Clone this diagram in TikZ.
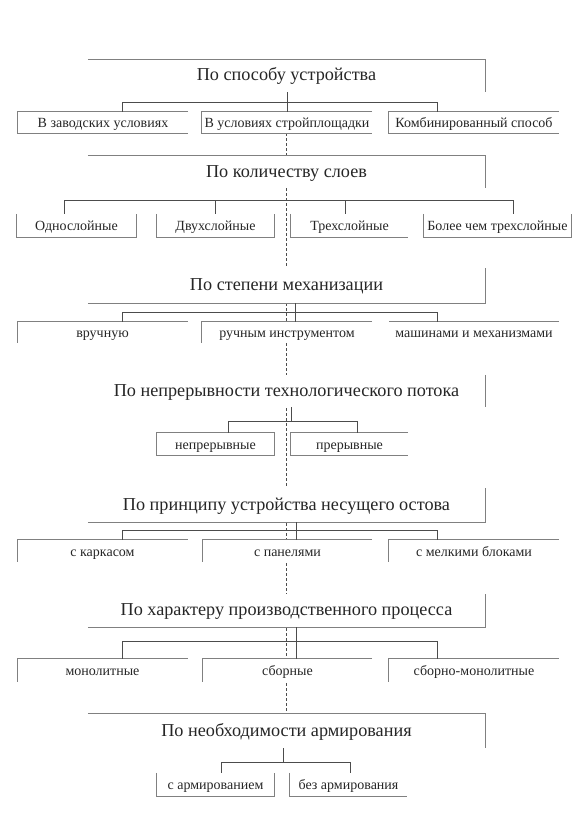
\documentclass[tikz,border=0pt]{standalone}
\usepackage{fontspec}
\setmainfont{Liberation Serif}
\usepackage{tikz}
\usetikzlibrary{backgrounds}

\begin{document}
\begin{tikzpicture}[x=1pt,y=-1pt,
  title/.style={fill=white,inner sep=0pt,minimum width=397pt,text height=1em,text depth=0pt,font=\fontsize{18.2}{21}\selectfont,text=black!85},
  item/.style={fill=white,inner sep=0pt,text height=1em,text depth=0pt,font=\fontsize{14}{16}\selectfont,text=black!85},
  edge/.style={draw=black!50,line width=0.8pt},
  link/.style={draw=black!70,line width=0.9pt},
  guide/.style={draw=black!70,line width=0.8pt,dash pattern=on 3pt off 2pt}]

  \useasboundingbox (0,0) rectangle (581,816);

  % По способу устройства
  \node[title,minimum height=32pt] (t1) at (286.5,76) {По способу устройства};
  \draw[edge] (t1.north west) -- (t1.north east) -- (t1.south east);
  \node[item,minimum width=170pt,minimum height=21pt] (b11) at (103,122.5) {В заводских условиях};
  \node[item,minimum width=170pt,minimum height=21pt] (b12) at (287,122.5) {В условиях стройплощадки};
  \node[item,minimum width=170pt,minimum height=21pt] (b13) at (474,122.5) {Комбинированный способ};
  \draw[edge] (b11.north east) -- (b11.north west) -- (b11.south west) -- (b11.south east);
  \draw[edge] (b12.north east) -- (b12.north west) -- (b12.south west) -- (b12.south east);
  \draw[edge] (b13.north east) -- (b13.north west) -- (b13.south west) -- (b13.south east);
  \coordinate (k1l) at (122,102);
  \coordinate (k1r) at (437,102);
  \draw[link] (b12.north |- t1.south) -- (b12.north);
  \draw[link] (k1l |- b11.north) -- (k1l) -- (k1r) -- (k1r |- b13.north);

  % По количеству слоев
  \node[title,minimum height=32pt] (t2) at (286.5,172) {По количеству слоев};
  \draw[edge] (t2.north west) -- (t2.north east) -- (t2.south east);
  \node[item,minimum width=119pt,minimum height=23pt] (b21) at (76.5,225.5) {Однослойные};
  \node[item,minimum width=117pt,minimum height=23pt] (b22) at (215.5,225.5) {Двухслойные};
  \node[item,minimum width=117pt,minimum height=23pt] (b23) at (349.5,225.5) {Трехслойные};
  \node[item,minimum width=147pt,minimum height=23pt] (b24) at (497.5,225.5) {Более чем трехслойные};
  \draw[edge] (b21.north west) -- (b21.south west) -- (b21.south east) -- (b21.north east);
  \draw[edge] (b22.north west) -- (b22.south west) -- (b22.south east) -- (b22.north east);
  \draw[edge] (b23.north west) -- (b23.south west) -- (b23.south east);
  \draw[edge] (b24.north west) -- (b24.south west) -- (b24.south east) -- (b24.north east);
  \coordinate (k2l) at (64,200);
  \coordinate (k2r) at (513,200);
  \draw[link] (k2l |- b21.north) -- (k2l) -- (k2r) -- (k2r |- b24.north);
  \draw[link] (b22.north |- k2l) -- (b22.north);
  \draw[link] ([xshift=-4pt]b23.north |- k2l) -- ([xshift=-4pt]b23.north);

  % По степени механизации
  \node[title,minimum height=35pt] (t3) at (286.5,285.5) {По степени механизации};
  \draw[edge] (t3.south west) -- (t3.south east) -- (t3.north east);
  \node[item,minimum width=170pt,minimum height=21pt] (b31) at (102.5,332.5) {вручную};
  \node[item,minimum width=170pt,minimum height=21pt] (b32) at (287,332.5) {ручным инструментом};
  \node[item,minimum width=170pt,minimum height=21pt] (b33) at (474,332.5) {машинами и механизмами};
  \draw[edge] (b31.north east) -- (b31.north west) -- (b31.south west);
  \draw[edge] (b32.north east) -- (b32.north west) -- (b32.south west);
  \draw[edge] (b33.north east) -- (b33.north west);
  \coordinate (k3) at (295,312);
  \coordinate (k3l) at (122,312);
  \coordinate (k3r) at (437,312);
  \draw[link] (k3 |- t3.south) -- (k3 |- b32.north);
  \draw[link] (k3l |- b31.north) -- (k3l) -- (k3r) -- (k3r |- b33.north);

  % По непрерывности технологического потока
  \node[title,minimum height=32pt] (t4) at (286.5,391) {По непрерывности технологического потока};
  \draw[edge] (t4.north east) -- (t4.south east);
  \node[item,minimum width=117pt,minimum height=22pt] (b41) at (215.5,444) {непрерывные};
  \node[item,minimum width=117pt,minimum height=22pt] (b42) at (349.5,444) {прерывные};
  \draw[edge] (b41.north west) rectangle (b41.south east);
  \draw[edge] (b42.north east) -- (b42.north west) -- (b42.south west) -- (b42.south east);
  \coordinate (k4) at (291,421);
  \coordinate (k4l) at (228,421);
  \coordinate (k4r) at (357,421);
  \draw[link] (k4 |- t4.south) -- (k4);
  \draw[link] (k4l |- b41.north) -- (k4l) -- (k4r) -- (k4r |- b42.north);

  % По принципу устройства несущего остова
  \node[title,minimum height=34pt] (t5) at (286.5,505) {По принципу устройства несущего остова};
  \draw[edge] (t5.south west) -- (t5.south east) -- (t5.north east);
  \node[item,minimum width=170pt,minimum height=22pt] (b51) at (102.5,551) {с каркасом};
  \node[item,minimum width=169pt,minimum height=22pt] (b52) at (287.5,551) {с панелями};
  \node[item,minimum width=170pt,minimum height=22pt] (b53) at (474,551) {с мелкими блоками};
  \draw[edge] (b51.north east) -- (b51.north west) -- (b51.south west);
  \draw[edge] (b52.north east) -- (b52.north west) -- (b52.south west);
  \draw[edge] (b53.north east) -- (b53.north west) -- (b53.south west);
  \coordinate (k5) at (296,530);
  \coordinate (k5l) at (122,530);
  \coordinate (k5r) at (437,530);
  \draw[link] (k5 |- t5.south) -- (k5 |- b52.north);
  \draw[link] (k5l |- b51.north) -- (k5l) -- (k5r) -- (k5r |- b53.north);

  % По характеру производственного процесса
  \node[title,minimum height=33pt] (t6) at (286.5,610.5) {По характеру производственного процесса};
  \draw[edge] (t6.south west) -- (t6.south east) -- (t6.north east);
  \node[item,minimum width=170pt,minimum height=23pt] (b61) at (102.5,670.5) {монолитные};
  \node[item,minimum width=169pt,minimum height=23pt] (b62) at (287.5,670.5) {сборные};
  \node[item,minimum width=170pt,minimum height=23pt] (b63) at (474,670.5) {сборно-монолитные};
  \draw[edge] (b61.north east) -- (b61.north west) -- (b61.south west);
  \draw[edge] (b62.north east) -- (b62.north west) -- (b62.south west);
  \draw[edge] (b63.north east) -- (b63.north west) -- (b63.south west);
  \coordinate (k6) at (296,641);
  \coordinate (k6l) at (122,641);
  \coordinate (k6r) at (437,641);
  \draw[link] (k6 |- t6.south) -- (k6 |- b62.north);
  \draw[link] (k6l |- b61.north) -- (k6l) -- (k6r) -- (k6r |- b63.north);

  % По необходимости армирования
  \node[title,minimum height=34pt] (t7) at (286.5,731) {По необходимости армирования};
  \draw[edge] (t7.north west) -- (t7.north east) -- (t7.south east);
  \node[item,minimum width=117pt,minimum height=23pt] (b71) at (215.5,784.5) {с армированием};
  \node[item,minimum width=117pt,minimum height=23pt] (b72) at (348.5,784.5) {без армирования};
  \draw[edge] (b71.north west) -- (b71.south west) -- (b71.south east) -- (b71.north east);
  \draw[edge] (b72.north west) -- (b72.south west) -- (b72.south east);
  \coordinate (k7) at (283,762);
  \coordinate (k7l) at (221,762);
  \coordinate (k7r) at (350,762);
  \draw[link] (k7 |- t7.south) -- (k7);
  \draw[link] (k7l |- b71.north) -- (k7l) -- (k7r) -- (k7r |- b72.north);

  % Dashed guide behind the frames
  \begin{scope}[on background layer]
    \fill[white] (0,0) rectangle (581,816);
    \draw[guide] ([xshift=-1pt]b12.south) -- ([xshift=-1pt]b12.south |- t7.north);
  \end{scope}

\end{tikzpicture}
\end{document}
